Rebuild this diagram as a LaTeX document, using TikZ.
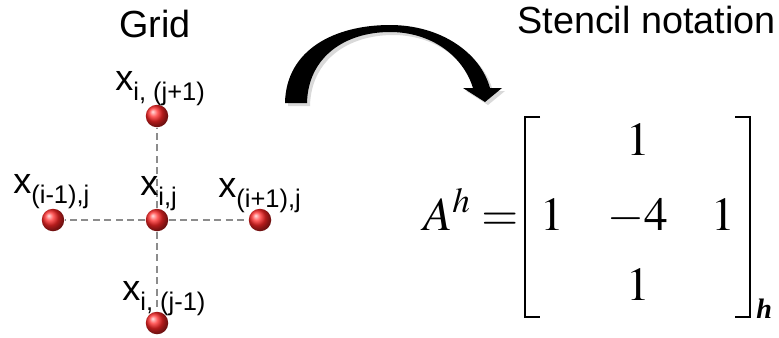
\documentclass[tikz,border=0pt]{standalone}
\usepackage{amsmath}
\usepackage{mathptmx}
\usepackage[no-math]{fontspec}
\newfontfamily\arialfont{Liberation Sans}
\newfontfamily\timesfont{Liberation Serif}
\usepackage{tikz}
\usetikzlibrary{positioning, shadows, backgrounds}
\newcommand{\idx}[1]{\raisebox{-0.2cm}{\fontsize{14.5}{16}\selectfont #1}}
\tikzset{
    grid_point/.style={
        circle, inner sep=0pt, minimum size=0.45cm, shading=ball, ball color=red!85!white
    },
    grid_label/.style={
        anchor=base west, inner sep=0pt, font=\arialfont\fontsize{20.5}{24}\selectfont
    },
    title_text/.style={
        anchor=base, inner sep=0pt, font=\arialfont\fontsize{21.5}{25}\selectfont
    },
    stencil_entry/.style={
        anchor=base, inner sep=0pt, font=\fontsize{27}{32}\selectfont
    },
    dash_line/.style={
        draw=gray!90, line width=1.3pt, dash pattern=on 4pt off 2.5pt
    },
    bracket_line/.style={
        draw=black, line width=1.6pt
    },
    bend_arrow/.style={
        fill=black, drop shadow={opacity=0.3, shadow xshift=0.06cm, shadow yshift=-0.06cm}
    }
}

\begin{document}
\begin{tikzpicture}
    \useasboundingbox (0,0) rectangle (15.58,6.74);

    \node[title_text] (grid) at (3.1, 6.0) {Grid};
    \node[title_text, anchor=base west] (stencil) at (10.34, 6.08) {Stencil notation};

    % Puntos de la malla
    \node[grid_point] (pc) at (3.14, 2.34) {};
    \node[grid_point] (pn) at (3.14, 4.42) {};
    \node[grid_point] (ps) at (3.14, 0.28) {};
    \node[grid_point] (pw) at (1.06, 2.34) {};
    \node[grid_point] (pe) at (5.20, 2.34) {};

    \begin{scope}[on background layer]
        \draw[dash_line] (pc) -- (pn);
        \draw[dash_line] (pc) -- (ps);
        \draw[dash_line] (pc) -- (pw);
        \draw[dash_line] (pc) -- (pe);
    \end{scope}

    \node[grid_label] (ln) at (2.30, 4.94) {x\idx{i, (j+1)}};
    \node[grid_label] (lw) at (0.26, 2.88) {x\idx{(i-1),j}};
    \node[grid_label] (lc) at (2.80, 2.84) {x\idx{i,j}};
    \node[grid_label] (le) at (4.36, 2.80) {x\idx{(i+1),j}};
    \node[grid_label] (ls) at (2.44, 0.74) {x\idx{i, (j-1)}};

    % Flecha curva
    \fill[bend_arrow] (5.70,4.68) .. controls (5.72,5.75) and (6.7,6.24) .. (7.80,6.24)
        .. controls (8.8,6.24) and (9.6,5.7) .. (9.80,4.98) -- (10.04,4.98) -- (9.70,4.70)
        -- (9.26,4.98) -- (9.46,4.98) .. controls (9.25,5.65) and (8.6,6.10) .. (7.80,6.10)
        .. controls (6.9,6.10) and (6.16,5.6) .. (6.14,4.68) -- cycle;

    % Matriz del stencil
    \node[stencil_entry, anchor=base west] (lhs) at (8.46, 2.14) {$A^{h} =$};
    \node[stencil_entry] (a12) at (12.76, 3.64) {$1$};
    \node[stencil_entry] (a21) at (11.04, 2.14) {$1$};
    \node[stencil_entry] (a22) at (12.75, 2.14) {$-4$};
    \node[stencil_entry] (a23) at (14.46, 2.14) {$1$};
    \node[stencil_entry] (a32) at (12.76, 0.74) {$1$};

    \draw[bracket_line] (10.80, 4.40) -- (10.50, 4.40) -- (10.50, 0.40) -- (10.80, 0.40);
    \draw[bracket_line] (14.70, 4.40) -- (15.00, 4.40) -- (15.00, 0.40) -- (14.70, 0.40);
    \node[anchor=base west, inner sep=0pt, font=\timesfont\bfseries\itshape\fontsize{16}{18}\selectfont] (sub) at (15.12, 0.38) {h};
\end{tikzpicture}
\end{document}
